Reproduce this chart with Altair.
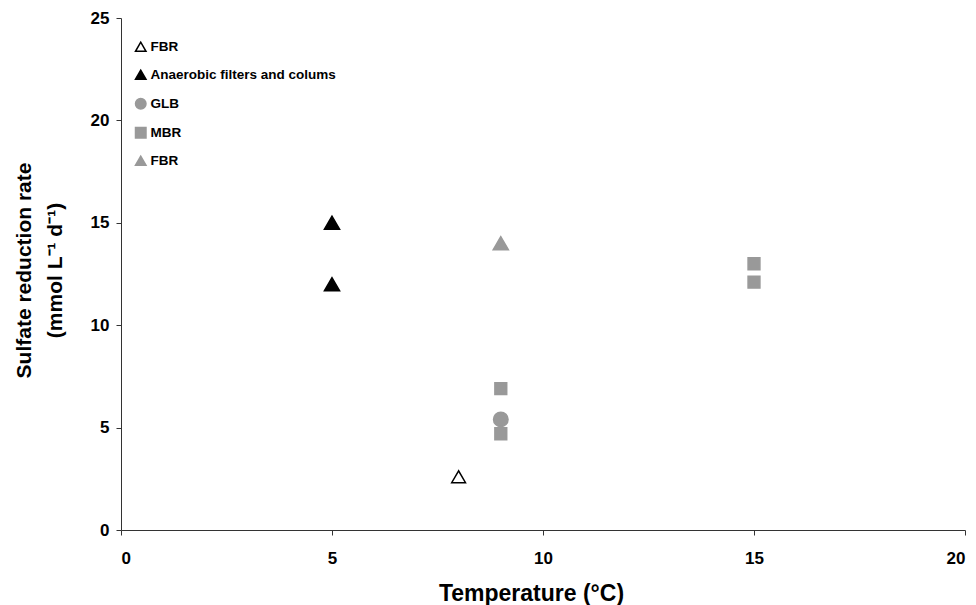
import altair as alt
import pandas as pd

series = ["FBR (open)", "Anaerobic filters and colums", "Anaerobic filters and colums",
          "GLB", "MBR", "MBR", "MBR", "MBR", "FBR"]
temperature = [8, 5, 5, 9, 9, 9, 15, 15, 9]
rate = [2.6, 15.0, 12.0, 5.4, 6.9, 4.7, 13.0, 12.1, 14.0]

legend_order = ["FBR (open)", "Anaerobic filters and colums", "GLB", "MBR", "FBR"]
shapes = ["triangle-up", "triangle-up", "circle", "square", "triangle-up"]
fills = ["#ffffff", "#000000", "#999999", "#999999", "#999999"]
strokes = ["#000000", "#000000", "#999999", "#999999", "#999999"]
sizes = [190, 230, 210, 140, 230]

df = pd.DataFrame({"series": series, "temperature": temperature, "rate": rate})

FONT = "Liberation Sans"
LABEL_EXPR = "datum.label == 'FBR (open)' ? 'FBR' : datum.label"
SIZE_EXPR = "{}[indexof({}, datum.series)]".format(
    "[" + ",".join(str(s) for s in sizes) + "]",
    "[" + ",".join("'" + s + "'" for s in legend_order) + "]",
)

legend = alt.Legend(title=None, labelExpr=LABEL_EXPR, orient="none", legendX=13, legendY=22)

chart = alt.Chart(df).transform_calculate(
    sz=SIZE_EXPR
).mark_point(filled=True, opacity=1, strokeWidth=1.5).encode(
    x=alt.X("temperature:Q",
            scale=alt.Scale(domain=[0, 20], nice=False, zero=True),
            axis=alt.Axis(title="Temperature (°C)", values=[0, 5, 10, 15, 20], grid=False,
                          labelPadding=15, titlePadding=16, titleX=410)),
    y=alt.Y("rate:Q",
            scale=alt.Scale(domain=[0, 25], nice=False),
            axis=alt.Axis(title=["Sulfate reduction rate", "(mmol L⁻¹ d⁻¹)"],
                          values=[0, 5, 10, 15, 20, 25], grid=False,
                          labelPadding=7, titlePadding=25, titleLineHeight=31, titleY=252)),
    shape=alt.Shape("series:N", scale=alt.Scale(domain=legend_order, range=shapes), legend=legend),
    fill=alt.Fill("series:N", scale=alt.Scale(domain=legend_order, range=fills), legend=legend),
    stroke=alt.Stroke("series:N", scale=alt.Scale(domain=legend_order, range=strokes), legend=legend),
    size=alt.Size("sz:Q", scale=None),
).properties(
    width=844, height=512,
    padding={"left": 5, "top": 1, "right": 0, "bottom": 0},
).configure_view(
    stroke=None
).configure_axis(
    labelFont=FONT, labelFontSize=17, labelFontWeight="bold", labelColor="#000",
    titleFont=FONT, titleFontSize=21, titleFontWeight="bold", titleColor="#000",
    domainColor="#333", tickColor="#333", tickSize=5, domainWidth=1,
).configure_axisX(
    titleFontSize=23
).configure_legend(
    padding=0,
    labelFont=FONT, labelFontSize=13.5, labelFontWeight="bold", labelColor="#000",
    symbolSize=110, symbolStrokeWidth=1.5, symbolOpacity=1, rowPadding=12, labelOffset=3,
    labelLimit=400,
)

chart.save("out.html", embed_options={"renderer": "svg", "actions": False})
